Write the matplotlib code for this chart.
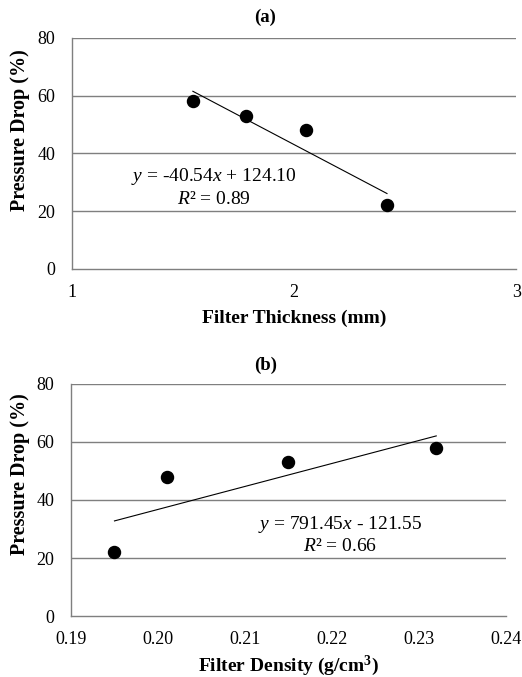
import numpy as np
import matplotlib.pyplot as plt

plt.rcParams['font.family'] = ['Liberation Serif', 'DejaVu Serif']
plt.rcParams['mathtext.fontset'] = 'custom'
plt.rcParams['mathtext.rm'] = 'Liberation Serif'
plt.rcParams['mathtext.it'] = 'Liberation Serif:italic'
plt.rcParams['mathtext.bf'] = 'Liberation Serif:bold'

# panel (a): pressure drop vs filter thickness
thickness = [1.544, 1.784, 2.054, 2.418]
drop_a = [58, 53, 48, 22]
slope_a, icpt_a = -40.54, 124.10

# panel (b): pressure drop vs filter density
density = [0.195, 0.201, 0.215, 0.232]
drop_b = [22, 48, 53, 58]
slope_b, icpt_b = 791.45, -121.55

yticks = [0, 20, 40, 60, 80]

fig = plt.figure(figsize=(5.22, 6.77), dpi=100)
ax1 = fig.add_axes([0.138, 0.603, 0.851, 0.341])
ax2 = fig.add_axes([0.136, 0.090, 0.833, 0.343])

gridcol = '#7f7f7f'

def style(ax):
    ax.set_ylim(0, 80)
    ax.set_yticks(yticks)
    for y in yticks[1:]:
        ax.axhline(y, color=gridcol, lw=1.0, zorder=0)
    for s in ['top', 'right']:
        ax.spines[s].set_visible(False)
    for s in ['left', 'bottom']:
        ax.spines[s].set_color(gridcol)
        ax.spines[s].set_linewidth(1.0)
    ax.tick_params(axis='y', length=0, labelsize=13, pad=12)
    ax.tick_params(axis='x', length=0, labelsize=13, pad=11)
    ax.set_ylabel('Pressure Drop (%)', fontsize=14.5, fontweight='bold')

# (a)
style(ax1)
ax1.yaxis.set_label_coords(-0.095, 0.60)
ax1.set_xlim(1, 3)
ax1.set_xticks([1, 2, 3])
ax1.scatter(thickness, drop_a, s=75, color='black', zorder=3)
xa = np.array([min(thickness), max(thickness)])
ax1.plot(xa, slope_a * xa + icpt_a, color='black', lw=0.8, zorder=2)
ax1.text(1.64, 31.9, r'$y$ = -40.54$x$ + 124.10', ha='center', va='center', fontsize=14)
ax1.text(1.64, 23.9, r'$R$² = 0.89', ha='center', va='center', fontsize=14)
ax1.set_xlabel('Filter Thickness (mm)', fontsize=14, fontweight='bold', labelpad=6)
fig.text(0.508, 0.975, '(a)', ha='center', va='center', fontsize=13.5, fontweight='bold')

# (b)
style(ax2)
ax2.yaxis.set_label_coords(-0.094, 0.61)
ax2.set_xlim(0.19, 0.24)
ax2.set_xticks([0.19, 0.20, 0.21, 0.22, 0.23, 0.24])
ax2.set_xticklabels(['0.19', '0.20', '0.21', '0.22', '0.23', '0.24'])
ax2.scatter(density, drop_b, s=75, color='black', zorder=3)
xb = np.array([min(density), max(density)])
ax2.plot(xb, slope_b * xb + icpt_b, color='black', lw=0.8, zorder=2)
ax2.text(0.2209, 31.7, r'$y$ = 791.45$x$ - 121.55', ha='center', va='center', fontsize=14)
ax2.text(0.2209, 23.8, r'$R$² = 0.66', ha='center', va='center', fontsize=14)
ax2.set_xlabel(r'Filter Density (g/cm$^{\mathbf{3}}$)', fontsize=14, fontweight='bold', labelpad=4)
fig.text(0.508, 0.461, '(b)', ha='center', va='center', fontsize=13.5, fontweight='bold')

fig.savefig('out.png', dpi=100)
